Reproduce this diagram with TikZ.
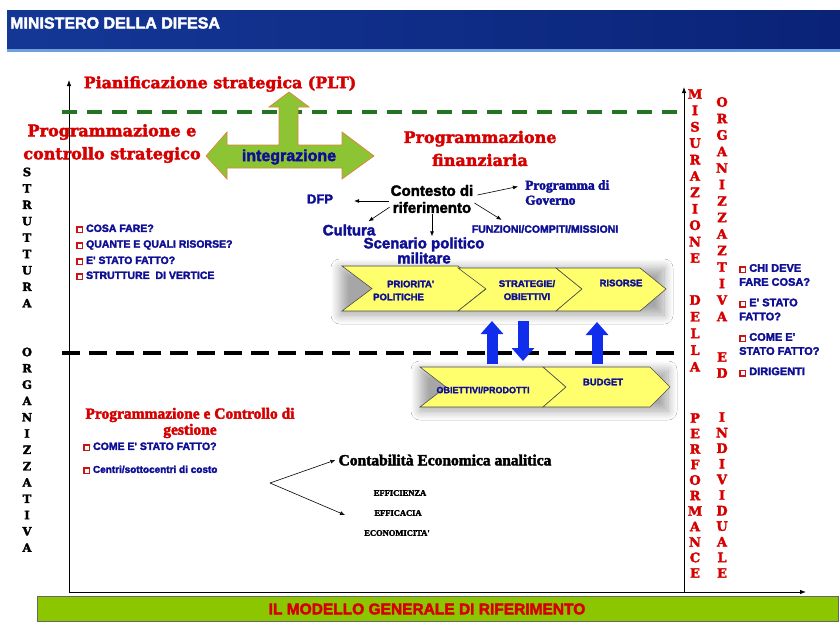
\documentclass[tikz,border=0pt]{standalone}
\usepackage{fontspec}
\setmainfont{Liberation Sans}
\newfontfamily\djs{DejaVu Serif}[FakeBold=2.5]
\newfontfamily\lsans{Liberation Sans}[FakeBold=2.5]
\newfontfamily\lserif{Liberation Serif}[FakeBold=2.5]
\usetikzlibrary{arrows.meta,shadows.blur}
\definecolor{titred}{RGB}{214,0,0}
\definecolor{txtblue}{RGB}{15,15,150}
\definecolor{arrgreen}{RGB}{141,196,52}
\definecolor{arredge}{RGB}{222,130,60}
\definecolor{dashgreen}{RGB}{35,115,35}
\definecolor{chevfill}{RGB}{255,255,110}
\definecolor{bigblue}{RGB}{15,45,235}
\definecolor{barGreen}{RGB}{140,198,0}
\definecolor{hdrA}{RGB}{20,55,150}
\definecolor{hdrB}{RGB}{22,65,165}
\definecolor{hdrC}{RGB}{10,35,120}
\definecolor{hdrline}{RGB}{110,160,220}
\definecolor{bulred}{RGB}{200,20,20}
\newcommand{\sqbul}{{\color{bulred}\setlength{\fboxsep}{0pt}\setlength{\fboxrule}{1.5pt}\fbox{\rule{0pt}{4pt}\hspace{4pt}}}}
\begin{document}
\begin{tikzpicture}[x=1pt,y=-1pt,
  axis/.style={line width=0.8pt,-{Latex[length=6pt,width=4.5pt]}},
  tarr/.style={line width=0.6pt,-{Latex[length=5pt,width=4pt]}},
  redtitle/.style={text=titred,font=\djs\bfseries\fontsize{16}{23}\selectfont,align=center,inner sep=1pt},
  bt/.style={text=txtblue,font=\lsans\bfseries\fontsize{15}{15}\selectfont,align=center,inner sep=1pt},
  chev/.style={fill=chevfill,draw=black!70,line width=0.6pt},
  chevtxt/.style={text=txtblue,font=\lsans\bfseries\fontsize{9.5}{13}\selectfont,align=center,inner sep=0pt},
  chk/.style={anchor=west,text=txtblue,font=\lsans\bfseries\fontsize{10.5}{12.5}\selectfont,inner sep=0pt},
  rchk/.style={anchor=west,align=left,text=txtblue,font=\lsans\bfseries\fontsize{11}{14}\selectfont,inner sep=0pt},
  bluearr/.style={bigblue,line width=11pt,-{Triangle[width=22pt,length=13pt]}},
  vr/.style={text=titred,font=\djs\bfseries\fontsize{13}{13}\selectfont,inner sep=0pt},
  vb/.style={text=black,font=\djs\bfseries\fontsize{11.5}{11.5}\selectfont,inner sep=0pt},
  small/.style={text=black,font=\lserif\bfseries\fontsize{8.5}{10}\selectfont,inner sep=0pt},
  glow/.style={blur shadow={shadow xshift=0pt,shadow yshift=-2pt,shadow blur radius=9pt,shadow opacity=35,shadow blur steps=14}}
]
\useasboundingbox (0,0) rectangle (840,621);
\fill[white] (0,0) rectangle (840,621);

% header
\shade[left color=hdrA,middle color=hdrB,right color=hdrC] (7,10) rectangle (840,51);
\fill[hdrline] (7,49) rectangle (840,51.5);
\node[anchor=west,text=white,font=\lsans\bfseries\fontsize{16}{17}\selectfont,inner sep=0pt] (hdr) at (10,23) {MINISTERO DELLA DIFESA};

% axes
\coordinate (O) at (69,592);
\coordinate (ytop) at (69,80);
\coordinate (xend) at (806,592);
\coordinate (rtop) at (684,87);
\coordinate (rbot) at (684,592);
\draw[axis] (O) -- (ytop);
\draw[axis] (O) -- (xend);
\draw[axis] (rbot) -- (rtop);

% dashed separators
\draw[dashgreen,line width=3.5pt,dash pattern=on 15pt off 10pt] (62,112) -- (680,112);
\draw[black,line width=4.5pt,dash pattern=on 18pt off 9pt] (62,353) -- (680,353);

% green arrows
\draw[fill=arrgreen,draw=arredge,line width=0.7pt] (206,156) -- (227,132) -- (227,145) -- (279,145) -- (279,107) -- (269,107) -- (289,92) -- (309,107) -- (298,107) -- (298,145) -- (342,145) -- (342,132) -- (374,156) -- (342,179) -- (342,168) -- (227,168) -- (227,179) -- cycle;
\node[bt,font=\lsans\bfseries\fontsize{16}{18}\selectfont] (integ) at (289,157) {integrazione};

% titles
\node[redtitle,font=\djs\bfseries\fontsize{15.8}{18}\selectfont] (plt) at (220,84) {Pianificazione strategica (PLT)};
\node[redtitle] (pcs) at (112,143.5) {Programmazione e\\controllo strategico};
\node[redtitle] (pfin) at (480,148.5) {Programmazione\\finanziaria};

% context
\node[text=black,font=\lsans\bfseries\fontsize{15}{17}\selectfont,align=center,inner sep=1pt] (ctx) at (432,199) {Contesto di\\riferimento};
\node[bt,font=\lsans\bfseries\fontsize{13}{15}\selectfont] (dfp) at (320,199) {DFP};
\node[anchor=west,align=left,text=txtblue,font=\lserif\bfseries\fontsize{13.5}{15}\selectfont,inner sep=0pt] (prog) at (525,192.5) {Programma di\\Governo};
\node[bt] (cult) at (349,230) {Cultura};
\node[bt] (scen) at (424,250.5) {Scenario politico\\militare};
\node[bt,font=\lsans\bfseries\fontsize{10.5}{12}\selectfont] (funz) at (545,229) {FUNZIONI/COMPITI/MISSIONI};
\draw[tarr] ([xshift=-1pt,yshift=-2pt]ctx.west) -- ([xshift=20pt,yshift=-2pt]dfp.east);
\draw[tarr] ([xshift=3pt,yshift=4pt]ctx.east) -- ([xshift=-7pt,yshift=6pt]prog.west);
\draw[tarr] ([yshift=7pt]ctx.south west) -- ([xshift=-8pt,yshift=2pt]cult.north east);
\draw[tarr] (ctx.south) -- (ctx.south |- scen.north);
\draw[tarr] ([yshift=-4pt]ctx.east) -- ([xshift=31pt,yshift=4pt]funz.north west);

% left checklist
\node[chk] (l1) at (76,229) {\sqbul\ COSA FARE?};
\node[chk] (l2) at (76,245) {\sqbul\ QUANTE E QUALI RISORSE?};
\node[chk] (l3) at (76,261) {\sqbul\ E' STATO FATTO?};
\node[chk] (l4) at (76,276) {\sqbul\ STRUTTURE\ \ DI VERTICE};

% chevron glows
\path[glow] (340,266) rectangle (664,313);
\path[glow] (420,368) rectangle (668,409);

% chevrons row 1
\draw[chev] (342,266) -- (458,266) -- (486,288.5) -- (458,311) -- (342,311) -- (372,288.5) -- cycle;
\draw[chev] (458,268) -- (556,268) -- (582,289) -- (556,311) -- (458,311) -- (486,289) -- cycle;
\draw[chev] (556,268) -- (640,268) -- (666,289) -- (640,311) -- (556,311) -- (582,289) -- cycle;
\node[chevtxt,anchor=west,align=left] (pri) at (373,290.5) {\hspace*{14pt}PRIORITA'\\POLITICHE};
\node[chevtxt] (strat) at (527,290) {STRATEGIE/\\OBIETTIVI};
\node[chevtxt] (ris) at (621,283) {RISORSE};

% chevrons row 2
\draw[chev] (420,367) -- (543,367) -- (566,387) -- (543,407) -- (420,407) -- (446,387) -- cycle;
\draw[chev] (543,367) -- (650,367) -- (670,387) -- (650,407) -- (543,407) -- (566,387) -- cycle;
\node[chevtxt,font=\lsans\bfseries\fontsize{9}{11}\selectfont] (obj) at (483,390) {OBIETTIVI/PRODOTTI};
\node[chevtxt] (bud) at (603,382) {BUDGET};

% blue block arrows
\coordinate (u1a) at (492,364); \coordinate (u1b) at (492,321);
\coordinate (d1a) at (523,321); \coordinate (d1b) at (523,361);
\coordinate (u2a) at (597,364); \coordinate (u2b) at (597,322);
\draw[bluearr] (u1a) -- (u1b);
\draw[bluearr] (d1a) -- (d1b);
\draw[bluearr] (u2a) -- (u2b);

% bottom-left block
\node[text=titred,font=\lserif\bfseries\fontsize{15.5}{16}\selectfont,align=center,inner sep=0pt] (pcg) at (190,423) {Programmazione e Controllo di\\gestione};
\node[chk] (b1) at (83,447) {\sqbul\ COME E' STATO FATTO?};
\node[chk,font=\lsans\bfseries\fontsize{10}{12}\selectfont] (b2) at (83,470) {\sqbul\ Centri/sottocentri di costo};
\coordinate (fork) at (270,483);
\node[font=\lserif\bfseries\fontsize{15.5}{17}\selectfont,inner sep=1pt] (cea) at (445,460) {Contabilità Economica analitica};
\coordinate (effend) at (345,515);
\draw[tarr] (fork) -- ([xshift=-2pt]cea.west);
\draw[tarr] (fork) -- (effend);
\node[small] (eff1) at (400,493) {EFFICIENZA};
\node[small] (eff2) at (398,513) {EFFICACIA};
\node[small] (eff3) at (397,533) {ECONOMICITA'};

% vertical letters left
\foreach \l [count=\i from 0] in {S,T,R,U,T,T,U,R,A}
  \node[vb] (st\i) at (27,{172+16.4*\i}) {\l};
\foreach \l [count=\i from 0] in {O,R,G,A,N,I,Z,Z,A,T,I,V,A}
  \node[vb] (og\i) at (27,{352+16.3*\i}) {\l};

% vertical letters right
\foreach \l [count=\i from 0] in {M,I,S,U,R,A,Z,I,O,N,E}
  \node[vr] (mi\i) at (695,{94+16.4*\i}) {\l};
\foreach \l [count=\i from 0] in {D,E,L,L,A}
  \node[vr] (de\i) at (695,{300+16.7*\i}) {\l};
\foreach \l [count=\i from 0] in {P,E,R,F,O,R,M,A,N,C,E}
  \node[vr] (pe\i) at (695,{418+15.5*\i}) {\l};
\foreach \l [count=\i from 0] in {O,R,G,A,N,I,Z,Z,A,Z,T,I,V,A}
  \node[vr] (or\i) at (722,{102+16.5*\i}) {\l};
\foreach \l [count=\i from 0] in {E,D}
  \node[vr] (ed\i) at (722,{357+16*\i}) {\l};
\foreach \l [count=\i from 0] in {I,N,D,I,V,I,D,U,A,L,E}
  \node[vr] (in\i) at (722,{417+15.6*\i}) {\l};

% right checklist
\node[rchk] (r1) at (739,275) {\sqbul\ CHI DEVE\\FARE COSA?};
\node[rchk] (r2) at (739,309.5) {\sqbul\ E' STATO\\FATTO?};
\node[rchk] (r3) at (739,344) {\sqbul\ COME E'\\STATO FATTO?};
\node[rchk] (r4) at (739,372) {\sqbul\ DIRIGENTI};

% bottom bar
\draw[fill=barGreen,draw=black!60,line width=0.6pt] (37,596) rectangle (838,621);
\node[text=titred,font=\lsans\bfseries\fontsize{15.5}{17}\selectfont,inner sep=0pt] (model) at (427,609) {IL MODELLO GENERALE DI RIFERIMENTO};
\end{tikzpicture}
\end{document}
